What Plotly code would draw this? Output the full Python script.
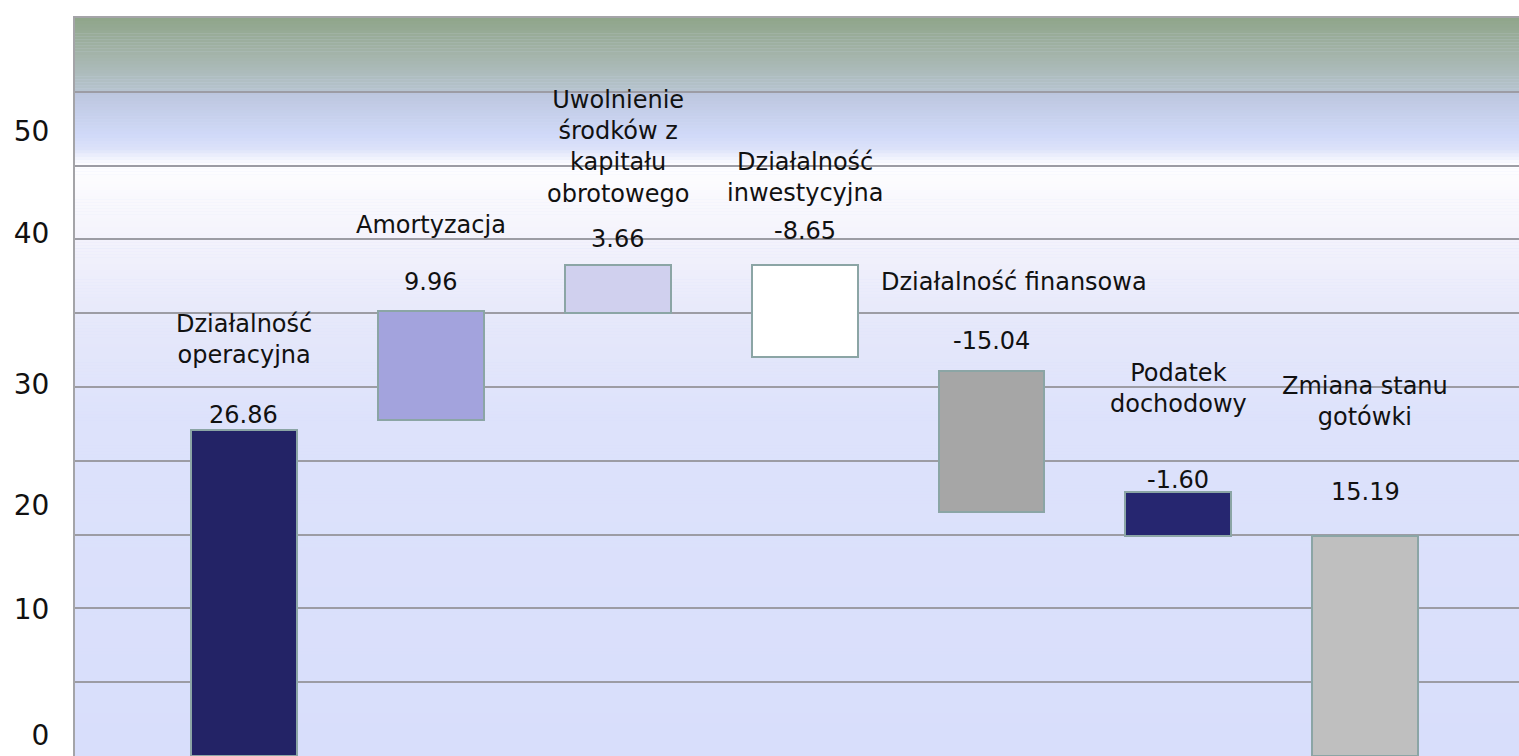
import plotly.graph_objects as go

# data
categories = ['Działalność<br>operacyjna', 'Amortyzacja', 'Uwolnienie<br>środków z<br>kapitału<br>obrotowego',
              'Działalność<br>inwestycyjna', 'Działalność finansowa', 'Podatek<br>dochodowy', 'Zmiana stanu<br>gotówki']
value_labels = ['26.86', '9.96', '3.66', '-8.65', '-15.04', '-1.60', '15.19']
bar_base = [0, 27.3, 36.0, 32.4, 19.8, 17.9, 0]
bar_top = [26.5, 36.2, 39.9, 39.9, 31.3, 21.5, 17.9]
tick_text = ['0', '10', '20', '30', '40', '50']

# where the labels sit (axis units)
name_y = [33.9, 43.2, 49.5, 47.0, 38.5, 29.9, 28.8]
value_y = [27.7, 38.5, 42.0, 42.7, 33.7, 22.4, 21.5]
tick_pos = [1.7, 11.9, 20.4, 30.2, 42.5, 50.8]

bar_colors = ['#232366', '#a3a3dd', '#d0d0ee', '#ffffff', '#a6a6a6', '#262670', '#bfbfbf']
FONT = 'DejaVu Sans'
Y_MAX = 60

# background gradient stops (axis units, colour)
bg_stops = [
    (0, '#d8defb'), (27.3, '#dde2fb'), (35.4, '#e6e8fa'), (42.8, '#f5f4fc'),
    (48.0, '#fefeff'), (48.5, '#f5f6fe'), (49.3, '#dde3f9'), (50.5, '#d0d9f8'),
    (53.9, '#bcc6de'), (54.15, '#b5c3cd'), (57.0, '#a4b4aa'), (60, '#8fa58a'),
]


def hex2rgb(h):
    h = h.lstrip('#')
    return tuple(int(h[i:i + 2], 16) for i in (0, 2, 4))


def bg_color(y):
    for (y0, c0), (y1, c1) in zip(bg_stops[:-1], bg_stops[1:]):
        if y0 <= y <= y1:
            t = (y - y0) / (y1 - y0)
            a, b = hex2rgb(c0), hex2rgb(c1)
            return 'rgb(%d,%d,%d)' % tuple(round(a[k] + (b[k] - a[k]) * t) for k in range(3))
    return bg_stops[-1][1]


idx = list(range(len(categories)))
heights = [t - b for t, b in zip(bar_top, bar_base)]

fig = go.Figure()
fig.add_trace(go.Bar(
    x=idx, y=heights, base=bar_base, width=0.567,
    marker=dict(color=bar_colors, line=dict(color='#8ba5a5', width=2)),
    hoverinfo='skip', showlegend=False,
))

shapes = []
step = 0.25
n = int(Y_MAX / step)
for i in range(n):
    y0 = i * step
    shapes.append(dict(type='rect', xref='paper', yref='y', x0=0, x1=1, y0=y0, y1=y0 + step + 0.02,
                       fillcolor=bg_color(y0 + step / 2), line=dict(width=0), layer='below'))

annotations = []
for i in idx:
    # the single-line "finansowa" label sits a bit right of its bar
    dx = 22 if i == 4 else 0
    annotations.append(dict(x=i, y=name_y[i], text=categories[i], showarrow=False, xshift=dx,
                            font=dict(family=FONT, size=24, color='#111111'), yanchor='middle'))
    annotations.append(dict(x=i, y=value_y[i], text=value_labels[i], showarrow=False,
                            font=dict(family=FONT, size=24, color='#111111'), yanchor='middle'))

fig.update_layout(
    width=1519, height=756,
    margin=dict(l=75, r=0, t=18, b=0),
    paper_bgcolor='white', plot_bgcolor='#d8defb',
    shapes=shapes, annotations=annotations,
    bargap=0,
    xaxis=dict(range=[-0.903, 6.822], showticklabels=False, showgrid=False, zeroline=False,
               showline=True, mirror=True, linecolor='#a4a4a8', linewidth=2, automargin=False),
    yaxis=dict(range=[0, Y_MAX], tickmode='array', tickvals=tick_pos, ticktext=tick_text,
               showgrid=False, zeroline=False, showline=True, linecolor='#a4a4a8', linewidth=2,
               tickfont=dict(family=FONT, size=28, color='#111111'), ticks='', ticklabelstandoff=18,
               ticklabeloverflow='allow', automargin=False,
               minor=dict(tickmode='linear', tick0=0, dtick=6, showgrid=True,
                          gridcolor='#9c9ca4', gridwidth=2, ticks='')),
)

# drop the default page margin / scrollbars so the figure fills the window exactly
page_js = ("document.body.style.margin = '0';"
           "document.body.style.overflow = 'hidden';"
           "document.documentElement.style.overflow = 'hidden';")
fig.write_html("out.html", config={'displayModeBar': False}, post_script=page_js)
